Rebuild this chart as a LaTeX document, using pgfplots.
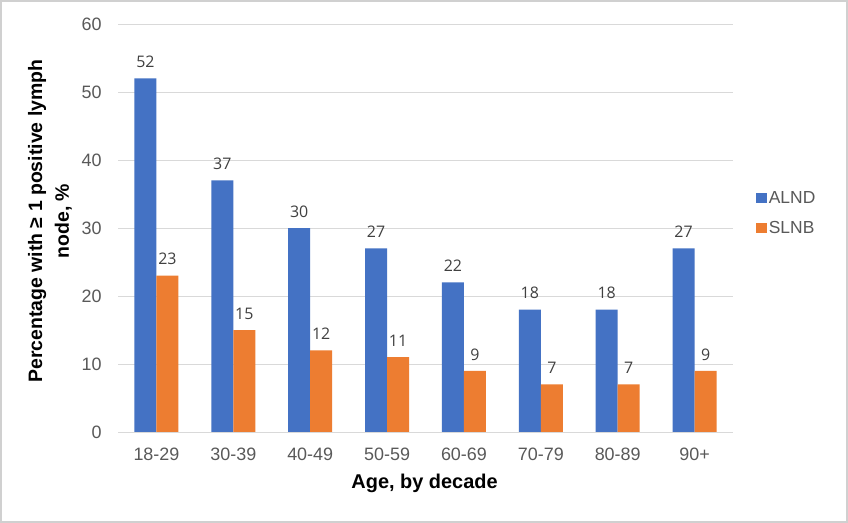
\documentclass[border=0pt]{standalone}
\usepackage{pgfplots}
\pgfplotsset{compat=1.18}
\usepackage{fontspec}
\setmainfont{Liberation Sans}
\newfontfamily\lblfont{Open Sans}
\definecolor{alnd}{HTML}{4472C4}
\definecolor{slnb}{HTML}{ED7D31}
\definecolor{gridc}{HTML}{D9D9D9}
\definecolor{framec}{HTML}{D0D0D0}
\definecolor{tickc}{HTML}{595959}
\definecolor{lblc}{HTML}{404040}
\begin{document}
\begin{tikzpicture}
\path[use as bounding box] (0bp,0bp) rectangle (848bp,523bp);
\draw[framec, line width=2bp, fill=white] (1bp,1bp) rectangle (847bp,522bp);
\begin{axis}[
  at={(118bp,91bp)}, anchor=south west,
  scale only axis, width=615bp, height=408bp,
  ymin=0, ymax=60, ytick={0,10,...,60},
  xmin=-0.5, xmax=7.5, xtick={0,...,7},
  xticklabels={18-29,30-39,40-49,50-59,60-69,70-79,80-89,90+},
  ybar=0pt, bar width=22bp,
  axis line style={draw=none},
  ymajorgrids, grid style={gridc, line width=1bp},
  major tick length=0pt,
  /pgf/number format/assume math mode=true,
  ticklabel style={font=\fontsize{18}{20}\selectfont, text=tickc},
  xticklabel style={yshift=-12bp},
  yticklabel style={xshift=-13bp},
  ytick style={draw=none}, xtick style={draw=none},
  nodes near coords,
  nodes near coords style={font=\lblfont\fontsize{16}{18}\selectfont, text=lblc, yshift=7bp},
  xlabel={Age, by decade},
  xlabel style={font=\bfseries\fontsize{20}{24}\selectfont, text=black, at={(axis description cs:0.4985,-0.125)}, anchor=center},
  ylabel={Percentage with ≥ 1 positive lymph\\node, \%},
  ylabel style={font=\bfseries\fontsize{19.5}{27}\selectfont, text=black, align=center, at={(axis description cs:-0.1106,0.517)}, anchor=center},
  legend style={at={(axis description cs:1.032,0.60)}, anchor=north west, draw=none, fill=none,
    font=\fontsize{17.5}{20}\selectfont, text=tickc, row sep=12bp, cells={anchor=west}},
  legend image code/.code={\fill[#1] (0bp,-5bp) rectangle (11bp,5bp);},
]
\addplot[fill=alnd, draw=none] coordinates {(0,52) (1,37) (2,30) (3,27) (4,22) (5,18) (6,18) (7,27)};
\addplot[fill=slnb, draw=none] coordinates {(0,23) (1,15) (2,12) (3,11) (4,9) (5,7) (6,7) (7,9)};
\legend{ALND, SLNB}
\end{axis}
\end{tikzpicture}
\end{document}
